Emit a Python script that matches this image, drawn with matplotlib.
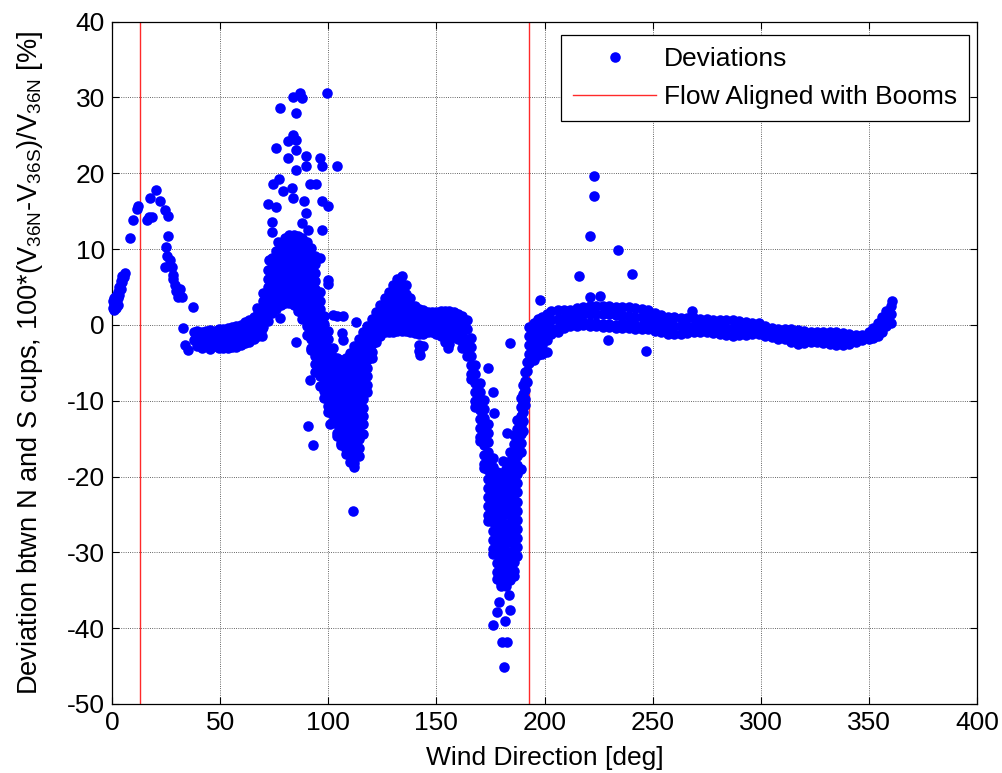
import matplotlib
matplotlib.use("Agg")
import matplotlib.pyplot as plt
from matplotlib.lines import Line2D

plt.rcParams['font.family'] = ['Liberation Sans', 'DejaVu Sans']
plt.rcParams['mathtext.fontset'] = 'custom'
plt.rcParams['mathtext.rm'] = 'Liberation Sans'
plt.rcParams['mathtext.it'] = 'Liberation Sans:italic'
plt.rcParams['axes.unicode_minus'] = False

# ---------------- data ----------------
# Wind direction columns [deg] and deviations [%] at each column
lowdir_dir = [0.3, 1.0, 1.8, 2.6, 3.3, 4.0, 4.8, 5.6, 6.2]
lowdir_dev = [[2.2, 3.2], [2.0, 2.8, 3.6], [2.2, 3.0, 3.8], [2.6, 3.5, 4.4],
              [4.0, 5.0], [4.8, 5.8], [5.6, 6.5], [6.3], [6.9]]

flat1_dir = [38.0, 39.5, 41.5, 43.5, 45.5, 47.5, 49.5, 51.5, 53.5, 55.5,
             57.5, 59.5, 61.5, 63.5, 65.5, 67.5, 69.5]
flat1_dev = [[-1.0, -2.0], [-0.8, -1.8, -2.8], [-0.9, -1.9, -3.0],
             [-0.8, -1.8, -2.8], [-0.7, -1.7, -2.7, -3.2], [-0.8, -1.8, -2.8],
             [-0.6, -1.6, -2.6, -3.1], [-0.5, -1.5, -2.5, -3.0],
             [-0.4, -1.4, -2.4, -3.1], [-0.3, -1.3, -2.3, -2.9],
             [-0.2, -1.2, -2.2, -2.9], [0.0, -1.0, -2.0, -2.7],
             [0.4, -0.6, -1.6, -2.4], [0.7, -0.3, -1.3, -2.2],
             [1.0, 0.0, -1.0, -1.9], [1.6, 0.6, -0.4, -1.4],
             [2.4, 1.4, 0.4, -0.6, -1.4]]

peak_dir = [70, 72, 74, 76, 78, 80, 82, 84, 86, 88, 90, 92, 94]
peak_dev = [[4.2, 3.1, 2.0, 0.9, -0.3],
            [7.2, 6.1, 5.0, 3.9, 2.8, 1.7, 0.5],
            [8.8, 7.7, 6.6, 5.5, 4.4, 3.3, 2.2, 1.6],
            [9.8, 8.7, 7.6, 6.5, 5.4, 4.3, 3.2, 2.1],
            [10.6, 9.5, 8.4, 7.3, 6.2, 5.1, 4.0, 2.9, 2.6],
            [11.4, 10.3, 9.2, 8.1, 7.0, 5.9, 4.8, 3.7, 2.9],
            [11.8, 10.7, 9.6, 8.5, 7.4, 6.3, 5.2, 4.1, 2.9],
            [11.8, 10.7, 9.6, 8.5, 7.4, 6.3, 5.2, 4.1, 3.0, 2.6],
            [11.7, 10.6, 9.5, 8.4, 7.3, 6.2, 5.1, 4.0, 2.9, 1.8],
            [11.4, 10.3, 9.2, 8.1, 7.0, 5.9, 4.8, 3.7, 2.6, 1.5, 0.8],
            [10.9, 9.8, 8.7, 7.6, 6.5, 5.4, 4.3, 3.2, 2.1, 1.0, -0.1, -1.3],
            [10.2, 9.1, 8.0, 6.9, 5.8, 4.7, 3.6, 2.5, 1.4, 0.3, -0.8, -1.9, -3.0, -3.3],
            [9.1, 8.0, 6.9, 5.8, 4.7, 3.6, 2.5, 1.4, 0.3, -0.8, -1.9, -3.0, -4.1, -5.2, -6.2]]

vdip_dir = [96, 98, 100, 102, 104, 106, 108, 110, 112, 114, 116, 118, 120,
            122, 124, 126, 128, 130, 132, 134]
vdip_dev = [[4.3, 3.2, 2.1, 1.0, -0.1, -1.2, -2.3, -3.4, -4.5, -5.6, -6.7, -8.0],
            [1.2, 0.1, -1.0, -2.1, -3.2, -4.3, -5.4, -6.5, -7.6, -8.7, -9.6],
            [-0.8, -1.9, -3.0, -4.1, -5.2, -6.3, -7.4, -8.5, -9.6, -10.7, -11.5],
            [-3.1, -4.2, -5.3, -6.4, -7.5, -8.6, -9.7, -10.8, -11.9, -12.8],
            [-4.3, -5.4, -6.5, -7.6, -8.7, -9.8, -10.9, -12.0, -13.1, -14.2, -14.6],
            [-4.6, -5.7, -6.8, -7.9, -9.0, -10.1, -11.2, -12.3, -13.4, -14.5, -15.6, -15.9],
            [-4.3, -5.4, -6.5, -7.6, -8.7, -9.8, -10.9, -12.0, -13.1, -14.2, -15.3, -16.4, -17.0],
            [-3.7, -4.8, -5.9, -7.0, -8.1, -9.2, -10.3, -11.4, -12.5, -13.6, -14.7, -15.8, -16.9, -18.1],
            [-2.8, -3.9, -5.0, -6.1, -7.2, -8.3, -9.4, -10.5, -11.6, -12.7, -13.8, -14.9, -16.0, -17.1, -18.2, -18.8],
            [-1.9, -3.0, -4.1, -5.2, -6.3, -7.4, -8.5, -9.6, -10.7, -11.8, -12.9, -14.0, -15.1, -16.2, -17.3],
            [-1.0, -2.1, -3.2, -4.3, -5.4, -6.5, -7.6, -8.7, -9.8, -10.9, -12.0, -13.1, -14.4],
            [-0.2, -1.3, -2.4, -3.5, -4.6, -5.7, -6.8, -7.9, -8.8],
            [0.8, -0.3, -1.4, -2.5, -3.6, -4.4],
            [1.7, 0.6, -0.5, -1.6, -2.3],
            [2.6, 1.5, 0.4, -0.7, -1.4],
            [3.5, 2.4, 1.3, 0.2, -0.9],
            [4.4, 3.3, 2.2, 1.1, 0.0, -0.9],
            [5.2, 4.1, 3.0, 1.9, 0.8, -0.3, -0.9],
            [6.0, 4.9, 3.8, 2.7, 1.6, 0.5, -0.6, -0.8],
            [6.5, 5.4, 4.3, 3.2, 2.1, 1.0, -0.1, -0.8]]

flat2_dir = [136, 138, 140, 142, 144, 146, 148, 150, 152, 154, 156, 158, 160, 162]
flat2_dev = [[5.2, 4.1, 3.0, 1.9, 0.8, -0.3, -0.8],
             [3.5, 2.4, 1.3, 0.2, -0.9],
             [2.5, 1.4, 0.3, -0.8, -1.1],
             [2.1, 1.0, -0.1, -1.2, -2.6, -3.5],
             [1.9, 0.8, -0.3, -1.2, -2.8],
             [1.7, 0.6, -0.5, -1.0],
             [1.7, 0.6, -0.5, -0.9],
             [1.7, 0.6, -0.5, -1.2],
             [1.8, 0.7, -0.4, -1.5],
             [1.8, 0.7, -0.4, -1.5, -2.3],
             [1.8, 0.7, -0.4, -1.5, -2.5],
             [1.7, 0.6, -0.5, -1.6],
             [1.5, 0.4, -0.7, -1.8],
             [1.2, 0.1, -1.0, -2.1, -3.0]]

deep_dir = [164, 166, 168, 170, 172, 174, 176, 178, 180, 182, 184, 186,
            187.5, 189, 190, 191, 192, 193]
deep_dev = [[0.6, -0.6, -1.8, -3.0, -4.1],
            [-1.7, -2.9, -4.1, -5.3, -6.5, -7.1],
            [-5.3, -6.5, -7.7, -8.9, -10.1, -10.8],
            [-7.6, -8.8, -10.0, -11.2, -12.4, -13.6, -14.8, -15.3],
            [-9.9, -11.1, -12.3, -13.5, -14.7, -15.9, -17.1, -18.3, -18.9],
            [-13.1, -14.3, -15.5, -16.7, -17.9, -19.1, -20.3, -21.5, -22.7, -23.9, -25.1, -25.9],
            [-17.6, -18.8, -20.0, -21.2, -22.4, -23.6, -24.8, -26.0, -27.2, -28.4, -29.6, -30.2],
            [-19.4, -20.6, -21.8, -23.0, -24.2, -25.4, -26.6, -27.8, -29.0, -30.2, -31.4, -32.6, -33.5],
            [-19.6, -20.8, -22.0, -23.2, -24.4, -25.6, -26.8, -28.0, -29.2, -30.4, -31.6, -32.8, -34.0, -34.4],
            [-19.0, -20.2, -21.4, -22.6, -23.8, -25.0, -26.2, -27.4, -28.6, -29.8, -31.0, -32.2, -33.4, -34.4],
            [-16.7, -17.9, -19.1, -20.3, -21.5, -22.7, -23.9, -25.1, -26.3, -27.5, -28.7, -29.9, -31.1, -32.3, -33.7],
            [-14.5, -15.7, -16.9, -18.1, -19.3, -20.5, -21.7, -22.9, -24.1, -25.3, -26.5, -27.7, -28.9, -30.1, -31.3, -32.5, -33.1],
            [-12.5, -13.7, -14.9, -16.1, -17.3, -18.5, -19.7, -20.9, -22.1, -23.3, -24.5, -25.7, -26.9, -28.1, -29.3, -30.5],
            [-9.6, -10.8, -12.0, -13.2, -14.4, -15.6, -16.8, -19.0],
            [-7.9, -9.1, -10.3, -11.5, -12.7, -14.0],
            [-6.2, -7.4, -8.6, -9.8, -10.5],
            [-4.9, -6.1, -7.5],
            [-0.3, -1.5, -2.7, -3.9, -5.0]]

flat3_dir = [195, 197, 199, 201, 203, 206, 209, 212, 215, 218, 221, 224, 227,
             230, 233, 236, 239, 242, 245, 248, 251, 254, 257, 260, 263, 266,
             269, 272, 275, 278, 281, 284, 287, 290, 293, 296, 299, 302, 305,
             308, 311, 314, 317, 320, 323, 326, 329, 332, 335, 338, 341, 344,
             347, 350, 352, 354, 356, 358, 360]
flat3_dev = [[0.2, -1.0, -2.2, -3.4, -4.6], [0.8, -0.4, -1.6, -2.8, -4.0],
             [1.0, -0.2, -1.4, -2.6, -3.8], [1.5, 0.4, -0.8, -2.0, -3.6],
             [1.8, 0.7, -0.5, -1.2], [1.9, 0.8, -0.4, -0.9], [2.0, 0.9, -0.1, -0.4],
             [2.0, 1.0, 0.1, -0.2], [2.2, 1.2, 0.2, -0.1], [2.4, 1.4, 0.4, 0.0], [2.5, 1.5, 0.3, -0.1],
             [2.5, 1.4, 0.2, -0.2], [2.5, 1.4, 0.1, -0.3], [2.5, 1.4, 0.1, -0.3],
             [2.4, 1.3, 0.0, -0.4], [2.4, 1.3, 0.2, -0.4], [2.3, 1.2, 0.1, -0.4],
             [2.2, 1.1, 0.0, -0.5], [2.1, 1.0, -0.1, -0.5], [1.9, 0.8, -0.3, -0.6],
             [1.6, 0.5, -0.6, -0.8], [1.3, 0.2, -0.8, -1.0], [1.1, 0.0, -1.0, -1.2], [1.0, -0.1, -1.2],
             [0.9, -0.2, -1.2], [0.9, -0.2, -1.1], [0.9, -0.1, -1.0], [0.8, -0.1, -0.9],
             [0.8, -0.2, -1.0], [0.7, -0.3, -1.1], [0.7, -0.3, -1.2], [0.6, -0.4, -1.3],
             [0.6, -0.4, -1.4], [0.5, -0.5, -1.3], [0.4, -0.5, -1.3], [0.3, -0.6, -1.2],
             [0.2, -0.6, -1.2], [-0.1, -0.8, -1.4], [-0.4, -1.0, -1.6], [-0.5, -1.2, -1.8],
             [-0.6, -1.2, -1.8], [-0.6, -1.4, -2.2], [-0.7, -1.6, -2.5], [-0.8, -1.6, -2.4],
             [-0.9, -1.6, -2.3], [-1.0, -1.7, -2.3], [-1.0, -1.7, -2.4], [-1.0, -1.8, -2.5],
             [-1.0, -1.8, -2.6], [-1.1, -1.9, -2.7], [-1.2, -1.9, -2.5], [-1.3, -1.8, -2.3],
             [-1.3, -2.0], [-1.0, -1.9], [-0.4, -1.7], [0.2, -0.8, -1.5],
             [1.1, 0.0, -0.9], [1.8, 0.8, -0.1], [2.5, 1.4, 0.2]]

# isolated points (direction [deg], deviation [%])
out_dir = [8.3, 9.9, 11.4, 12.2, 16.0, 17.0, 18.4, 17.6, 20.2, 22.2, 24.5, 25.7,
           25.7, 25.0, 25.6, 26.8, 24.5, 27.6, 28.4, 28.0, 29.1, 29.8, 31.5, 30.7,
           32.2, 37.6, 33.0, 33.8, 35.0,
           83.9, 87.0, 87.7, 99.6, 77.7, 85.1, 83.9, 81.5, 85.1, 75.9, 85.1, 81.5,
           89.7, 96.2, 89.7, 85.1, 97.0, 104.2, 77.4, 74.6, 79.2, 83.1, 83.9, 91.6,
           94.4, 72.3, 75.9, 88.8, 97.0, 100.0, 89.7, 73.9, 73.9, 87.7, 90.8, 97.0,
           76.9, 96.2, 72.8, 100.0, 100.0, 103.9, 107.0, 112.9, 102.4, 85.1, 77.7,
           67.2, 106.2, 107.0, 90.8, 93.1, 100.8, 111.6, 91.6,
           142.5, 155.5,
           198.0, 184.1, 174.0, 176.4, 176.8, 182.8, 181.0, 179.1, 183.8, 177.9,
           184.1, 181.8, 176.4, 180.2, 182.6, 181.3,
           222.9, 222.9, 220.9, 233.9, 216.1, 240.5, 221.1, 225.7, 229.3, 247.0,
           268.1, 360.6]
out_dev = [11.5, 13.9, 15.3, 15.7, 13.8, 14.2, 14.2, 16.8, 17.8, 16.3, 15.2, 14.4,
           11.7, 10.3, 9.1, 8.6, 7.6, 7.7, 6.6, 6.0, 5.3, 4.5, 4.7, 3.7,
           3.7, 2.3, -0.4, -2.6, -3.3,
           30.1, 30.6, 29.9, 30.6, 28.6, 27.9, 25.1, 24.2, 24.4, 23.3, 23.1, 22.0,
           22.3, 22.0, 21.0, 20.4, 21.0, 21.0, 19.2, 18.6, 17.7, 18.0, 16.7, 18.6,
           18.6, 16.0, 15.5, 16.3, 16.3, 15.7, 14.8, 13.6, 12.3, 13.4, 12.5, 12.5,
           10.9, 8.8, 8.6, 5.9, 5.4, 1.2, 1.2, 0.4, 1.3, -2.2, 0.9,
           2.2, -1.1, -2.0, -13.4, -15.9, -13.1, -24.6, -7.3,
           -4.0, -3.0,
           3.3, -2.4, -5.7, -8.8, -11.6, -14.3, -18.0, -36.5, -35.6, -37.9,
           -37.6, -39.1, -39.6, -41.8, -41.8, -45.1,
           19.7, 17.0, 11.7, 9.9, 6.5, 6.7, 3.7, 3.8, -2.0, -3.5,
           1.8, 3.1]

boom_dirs = [13, 193]

x_ticks = [0, 50, 100, 150, 200, 250, 300, 350, 400]
y_ticks = [-50, -40, -30, -20, -10, 0, 10, 20, 30, 40]

# ---------------- assemble ----------------
wd, dv = [], []
for cols, vals in [(lowdir_dir, lowdir_dev), (flat1_dir, flat1_dev),
                   (peak_dir, peak_dev), (vdip_dir, vdip_dev),
                   (flat2_dir, flat2_dev), (deep_dir, deep_dev),
                   (flat3_dir, flat3_dev)]:
    for xc, ys in zip(cols, vals):
        for yv in ys:
            wd.append(xc)
            dv.append(yv)
wd += out_dir
dv += out_dev

BLUE = '#0000ff'
RED = '#ff2a2a'

# ---------------- plot ----------------
fig = plt.figure(figsize=(10.03, 7.73), dpi=100)
ax = fig.add_axes([0.1117, 0.0893, 0.8624, 0.8827])

ax.plot(wd, dv, linestyle='none', marker='o', markersize=7.6,
        markerfacecolor=BLUE, markeredgecolor=BLUE, markeredgewidth=0,
        clip_on=False, zorder=3)
for b in boom_dirs:
    ax.plot([b, b], [-50, 40], linestyle='-', color=RED, linewidth=1.0,
            zorder=2)

ax.set_xlim(0, 400)
ax.set_ylim(-50, 40)
ax.set_xticks(x_ticks)
ax.set_yticks(y_ticks)
ax.grid(True, color='k', linestyle=':', linewidth=0.6, alpha=0.8)
ax.set_axisbelow(True)
ax.tick_params(direction='in', top=True, right=True, length=5, width=0.8,
               labelsize=19, pad=5)
for s in ax.spines.values():
    s.set_linewidth(0.9)
    s.set_color('k')

ax.set_xlabel('Wind Direction [deg]', fontsize=19, labelpad=8)
ax.set_ylabel(r'Deviation btwn N and S cups, 100*(V$_{\mathrm{36N}}$-V$_{\mathrm{36S}}$)/V$_{\mathrm{36N}}$ [%]',
              fontsize=19.6, labelpad=16)

handles = [Line2D([], [], linestyle='none', marker='o', markersize=7.6,
                  markerfacecolor=BLUE, markeredgecolor=BLUE, markeredgewidth=0),
           Line2D([], [], linestyle='-', color=RED, linewidth=1.0)]
leg = ax.legend(handles, ['Deviations', 'Flow Aligned with Booms'],
                loc='upper right', bbox_to_anchor=(0.9908, 0.9805),
                fontsize=19, frameon=True, fancybox=False,
                edgecolor='k', framealpha=1, borderaxespad=0.0,
                handlelength=3.15, handletextpad=0.3, numpoints=1,
                borderpad=0.45, labelspacing=0.55)
leg.get_frame().set_linewidth(0.9)

fig.savefig('out.png', dpi=100)
